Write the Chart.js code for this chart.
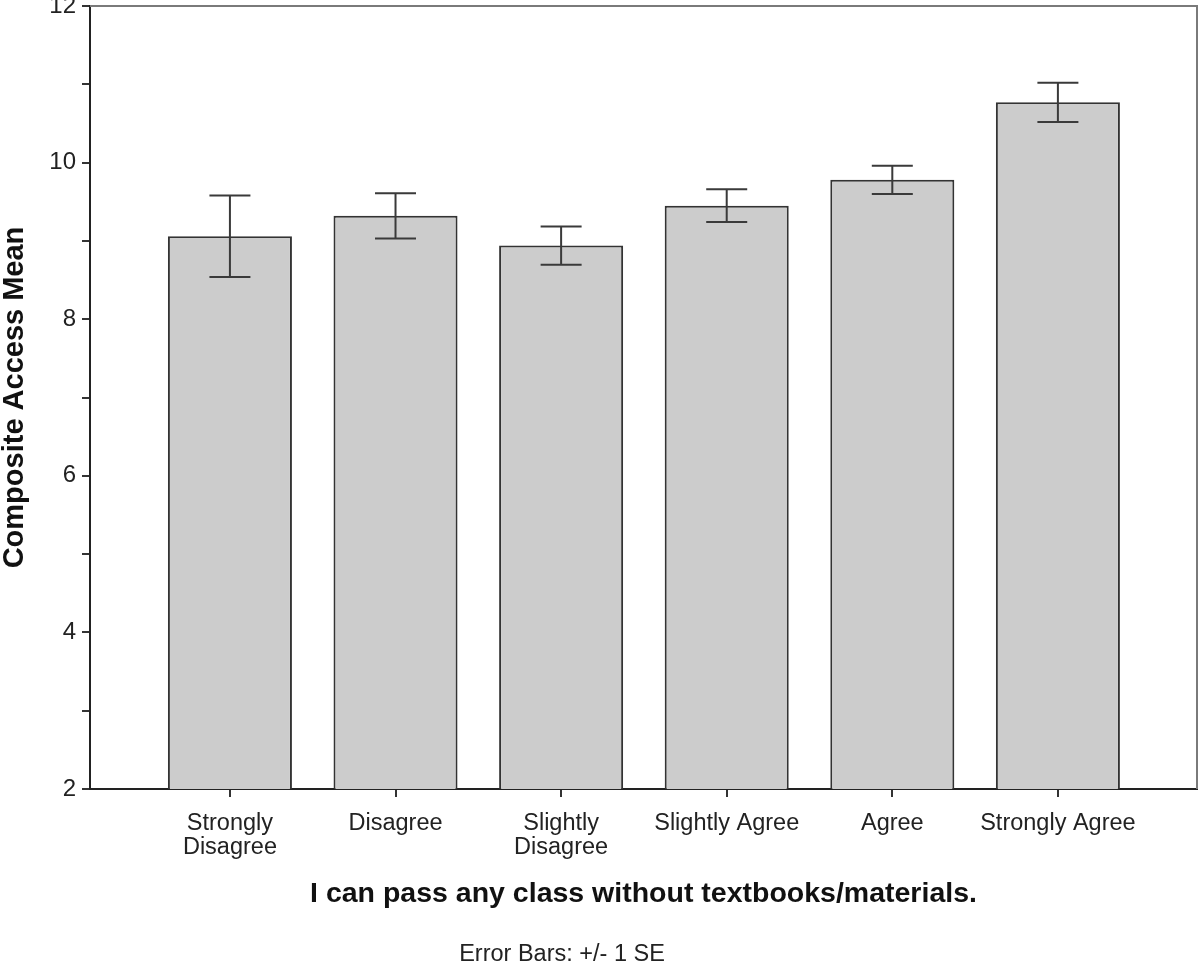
<!DOCTYPE html>
<html>
<head>
<meta charset="utf-8">
<title>Composite Access Mean</title>
<script src="https://cdn.jsdelivr.net/npm/chart.js@4.4.1/dist/chart.umd.min.js"></script>
<style>
  html, body { margin: 0; padding: 0; background: #fff; }
  #wrap { width: 1200px; height: 964px; }
</style>
</head>
<body>
<div id="wrap"><canvas id="chart" width="1200" height="964"></canvas></div>
<script>
// answers on the x axis
var categories = ['Strongly Disagree', 'Disagree', 'Slightly Disagree', 'Slightly Agree', 'Agree', 'Strongly Agree'];
var tickLabels = [['Strongly', 'Disagree'], 'Disagree', ['Slightly', 'Disagree'], 'Slightly Agree', 'Agree', 'Strongly Agree'];
// bar heights and +/- 1 SE
var means = [9.06, 9.32, 8.94, 9.45, 9.78, 10.77];
var stdErr = [0.52, 0.29, 0.245, 0.21, 0.18, 0.25];
var yTicks = [2, 4, 6, 8, 10, 12];

var FONT = '"Liberation Sans", Arial, sans-serif';

var points = categories.map(function (c, i) { return { x: i, y: means[i] }; });

// error bars drawn from the same scales as the bars
var errorBars = {
  id: 'errorBars',
  afterDatasetsDraw: function (chart) {
    var ctx = chart.ctx, xs = chart.scales.x, ys = chart.scales.y;
    ctx.save();
    ctx.strokeStyle = '#3a3a3a';
    ctx.lineWidth = 2;
    for (var i = 0; i < means.length; i++) {
      var x = xs.getPixelForValue(i);
      var top = ys.getPixelForValue(means[i] + stdErr[i]);
      var bot = ys.getPixelForValue(means[i] - stdErr[i]);
      ctx.beginPath();
      ctx.moveTo(x, top); ctx.lineTo(x, bot);
      ctx.moveTo(x - 20.5, top); ctx.lineTo(x + 20.5, top);
      ctx.moveTo(x - 20.5, bot); ctx.lineTo(x + 20.5, bot);
      ctx.stroke();
    }
    ctx.restore();
  }
};

// grey frame on top and right, plus the footnote
var frame = {
  id: 'frame',
  afterDraw: function (chart) {
    var ctx = chart.ctx, a = chart.chartArea;
    ctx.save();
    ctx.strokeStyle = '#7a7a7a';
    ctx.lineWidth = 2;
    ctx.beginPath();
    ctx.moveTo(a.left, a.top); ctx.lineTo(a.right, a.top); ctx.lineTo(a.right, a.bottom);
    ctx.stroke();
    ctx.fillStyle = '#222';
    ctx.font = '23.5px ' + FONT;
    ctx.textAlign = 'center';
    ctx.textBaseline = 'middle';
    ctx.fillText('Error Bars: +/- 1 SE', 562, 955);
    ctx.restore();
  }
};

chart = new Chart('chart', {
  type: 'bar',
  data: {
    datasets: [{
      data: points,
      backgroundColor: '#cccccc',
      borderColor: '#333333',
      borderWidth: 2,
      borderSkipped: false,
      categoryPercentage: 1,
      barPercentage: 0.749
    }]
  },
  options: {
    responsive: false,
    animation: false,
    layout: { padding: { left: 0, top: 6, right: 3, bottom: 53 } },
    plugins: { legend: { display: false }, tooltip: { enabled: false } },
    scales: {
      x: {
        type: 'linear',
        offset: false,
        min: -0.845,
        max: 5.84,
        afterBuildTicks: function (scale) {
          scale.ticks = categories.map(function (c, i) { return { value: i }; });
        },
        afterFit: function (scale) {
          scale.height = 122;
          scale.paddingLeft = 0; scale.paddingRight = 0;
        },
        border: { color: '#222', width: 2 },
        grid: { offset: false, drawOnChartArea: false, tickLength: 8, tickColor: '#333', lineWidth: 2 },
        ticks: {
          color: '#222',
          padding: 14,
          maxRotation: 0,
          autoSkip: false,
          font: { family: FONT, size: 23.5, lineHeight: 1.05 },
          callback: function (v) { return tickLabels[v]; }
        },
        title: {
          display: true,
          text: 'I can pass any class without textbooks/materials.',
          color: '#111',
          padding: 0,
          font: { family: FONT, size: 28.5, weight: 'bold', lineHeight: 1.2 }
        }
      },
      y: {
        min: 2,
        max: 12,
        afterBuildTicks: function (scale) {
          var t = [];
          for (var v = 2; v <= 12; v++) t.push({ value: v });
          scale.ticks = t;
        },
        afterFit: function (scale) {
          scale.width = 90;
          scale.paddingTop = 0; scale.paddingBottom = 0;
        },
        border: { color: '#222', width: 2 },
        grid: { drawOnChartArea: false, tickLength: 8, tickColor: '#333', lineWidth: 2 },
        ticks: {
          color: '#222',
          padding: 6,
          font: { family: FONT, size: 24 },
          callback: function (v) { return yTicks.indexOf(v) >= 0 ? String(v) : ''; }
        },
        title: {
          display: true,
          text: 'Composite Access Mean',
          color: '#111',
          padding: 0,
          font: { family: FONT, size: 29, weight: 'bold', lineHeight: 1.0 }
        }
      }
    }
  },
  plugins: [errorBars, frame]
});
</script>
</body>
</html>
